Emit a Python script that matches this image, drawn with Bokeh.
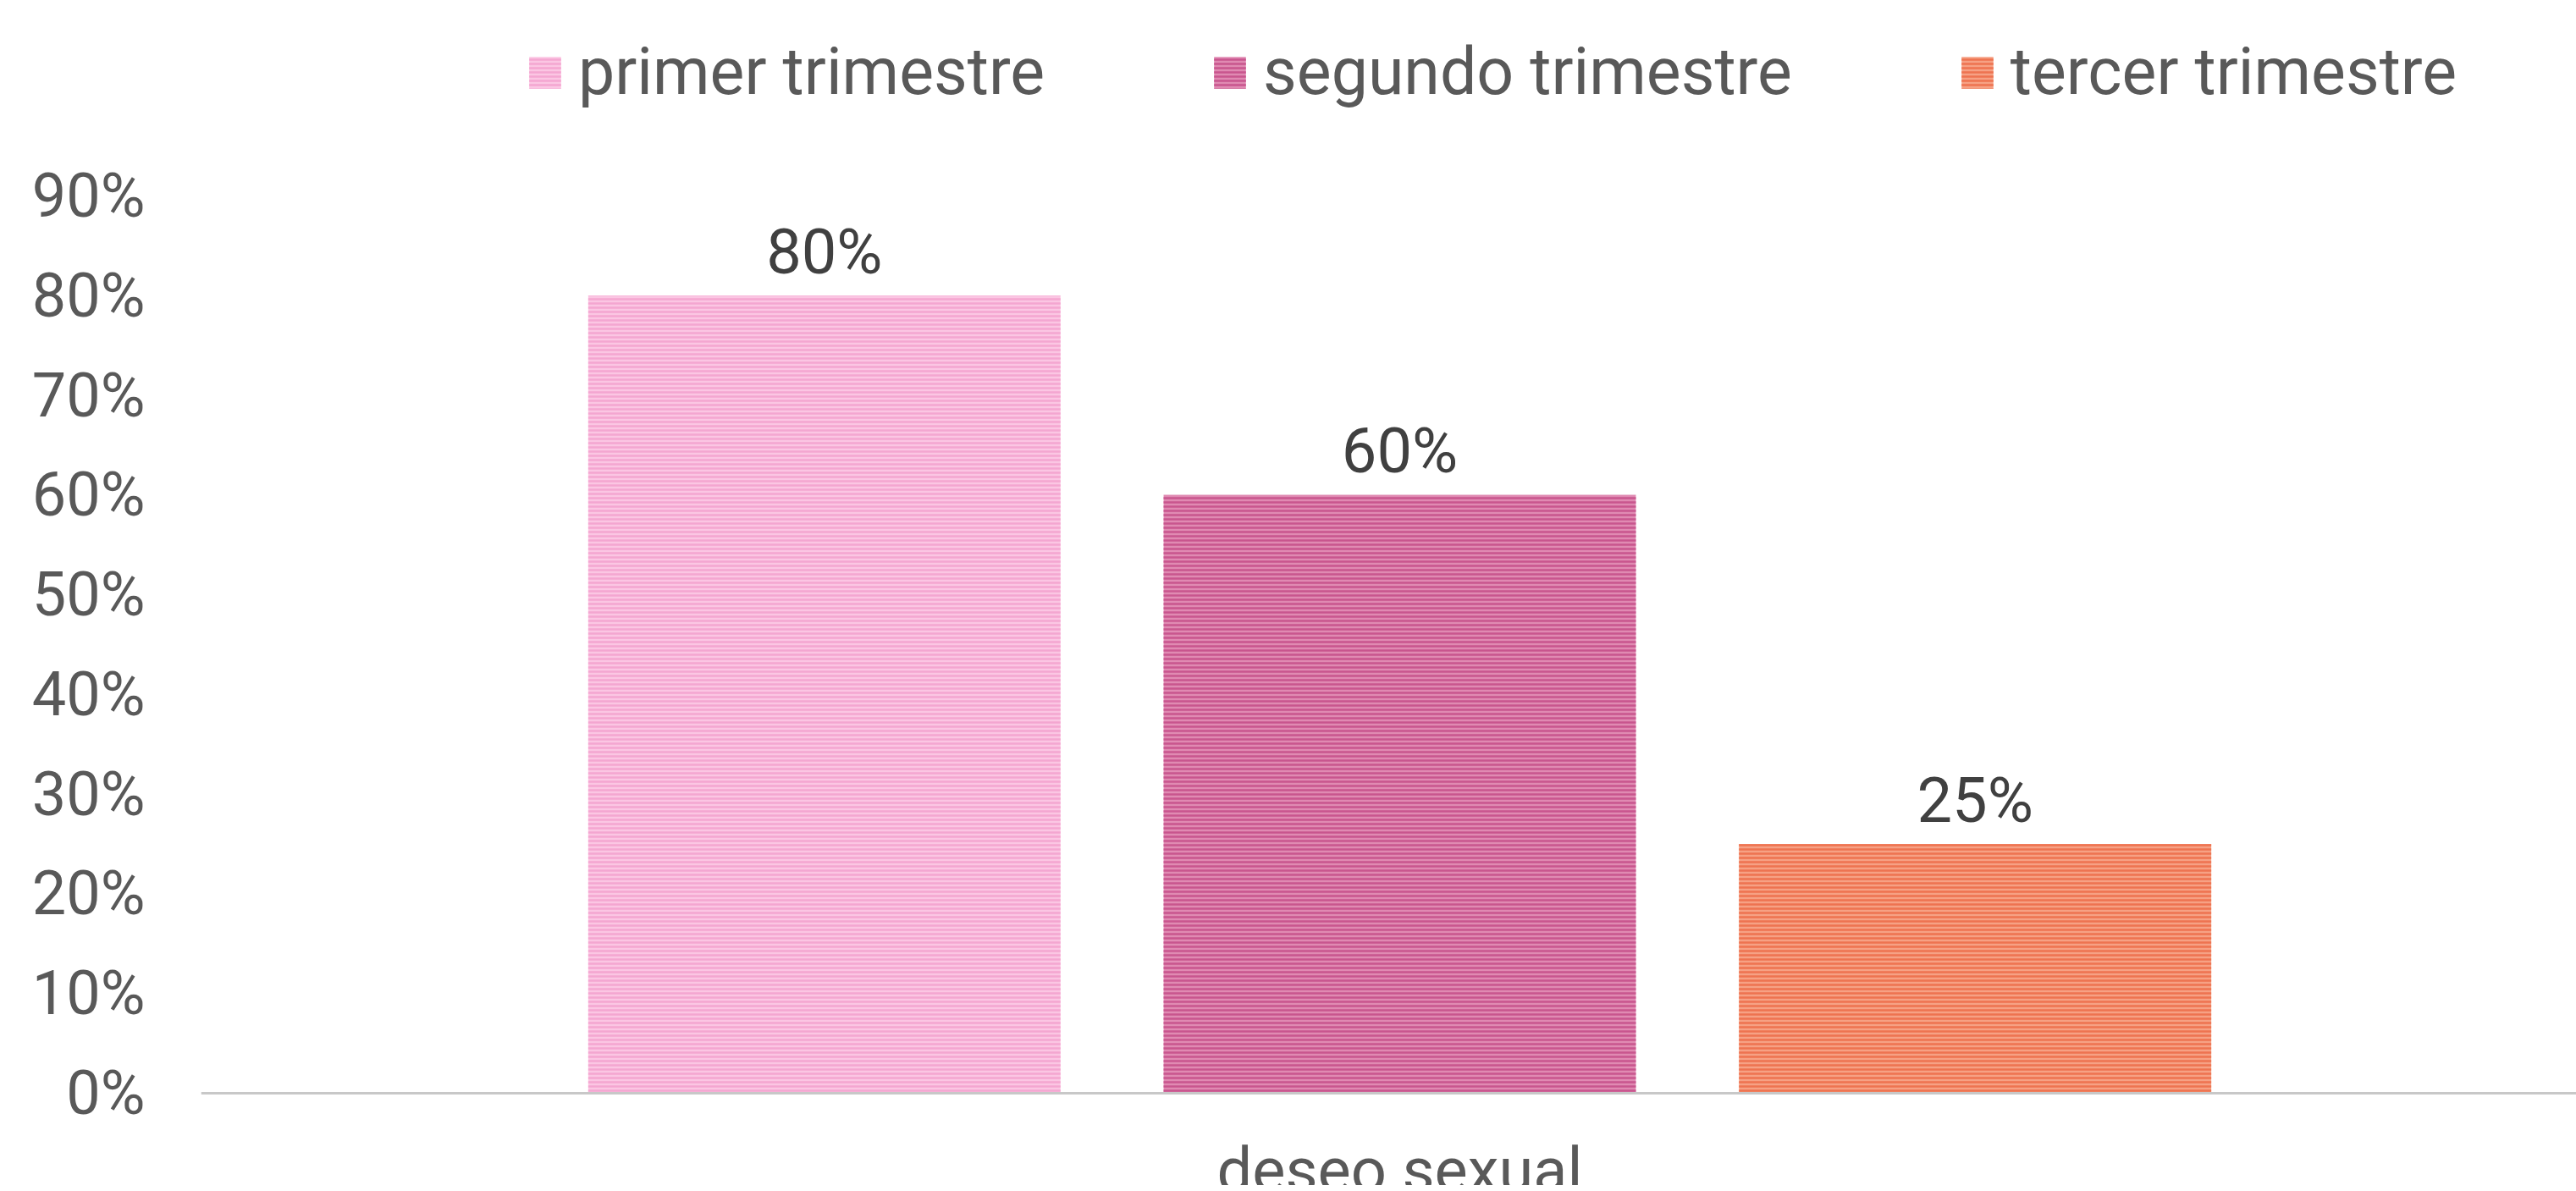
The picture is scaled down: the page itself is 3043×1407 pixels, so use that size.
from bokeh.plotting import figure
from bokeh.models import (ColumnDataSource, Range1d, FixedTicker, NumeralTickFormatter,
                          Legend, LegendItem, Label, Span)
from bokeh.embed import file_html
from bokeh.resources import INLINE
from bokeh.core.properties import value

# ---- data ----
categories = ["deseo sexual"]
series = ["primer trimestre", "segundo trimestre", "tercer trimestre"]
primer = [0.80]
segundo = [0.60]
tercer = [0.25]
y_ticks = [0.0, 0.1, 0.2, 0.3, 0.4, 0.5, 0.6, 0.7, 0.8, 0.9]

# ---- styles ----
fill_colors = ["#FBC6E3", "#E08AB2", "#F6A184"]
hatch_colors = ["#F4A6D1", "#C9558E", "#EE7350"]
offsets = [-0.240, 0.0, 0.240]
bar_w = 0.197
FONT = "Roboto"

W, H = 3043, 1400
LEFT = 237          # plot area left edge (px)
BASE = 1291         # pixel row of the 0% baseline
TOP90 = 231         # pixel row of the 90% gridline
ppu = (BASE - TOP90) / 0.9
y_lo = -(H - BASE) / ppu
y_hi = 0.9 + TOP90 / ppu

p = figure(width=W, height=H, output_backend="svg", toolbar_location=None,
           x_range=Range1d(-0.5, -0.5 + (W - LEFT) / 2832), y_range=Range1d(y_lo, y_hi),
           x_axis_location=None,
           min_border_left=LEFT, min_border_right=0, min_border_top=0, min_border_bottom=0)
p.outline_line_color = None
p.xgrid.visible = False
p.ygrid.visible = False
p.background_fill_color = "white"

idx = list(range(len(categories)))
renderers = []
for vals, name, fc, hc, off in zip([primer, segundo, tercer], series, fill_colors, hatch_colors, offsets):
    src = ColumnDataSource(dict(x=[i + off for i in idx], top=vals,
                                lab=["{:.0%}".format(v) for v in vals]))
    r = p.vbar(x="x", top="top", bottom=0, width=bar_w, source=src,
               fill_color=fc, line_color=None,
               hatch_pattern="horizontal_line", hatch_color=hc,
               hatch_scale=5, hatch_weight=2.5)
    renderers.append(r)
    p.text(x="x", y="top", text="lab", source=src, text_align="center",
           text_baseline="middle", y_offset=-52, text_color="#404040",
           text_font=value(FONT), text_font_size="74px")

# baseline (category axis line)
p.add_layout(Span(location=0, dimension="width", line_color="#C8C8C8", line_width=3))

# y axis
ya = p.yaxis[0]
ya.ticker = FixedTicker(ticks=y_ticks)
ya.formatter = NumeralTickFormatter(format="0%")
ya.axis_line_color = None
ya.major_tick_line_color = None
ya.minor_tick_line_color = None
ya.major_label_text_font = FONT
ya.major_label_text_font_size = "72px"
ya.major_label_text_color = "#595959"
ya.major_label_standoff = 60

# category label
for i, c in enumerate(categories):
    p.add_layout(Label(x=i, y=0, text=c, text_align="center", text_baseline="middle",
                       y_offset=-91, text_color="#595959", text_font=FONT,
                       text_font_size="74px"))

legend = Legend(items=[LegendItem(label=s, renderers=[r]) for s, r in zip(series, renderers)],
                orientation="horizontal", location=(383, 1270),
                glyph_width=47, glyph_height=47, label_standoff=16, spacing=195,
                padding=0, margin=0, border_line_color=None, background_fill_alpha=0,
                label_text_font=FONT, label_text_font_size="77px",
                label_text_color="#595959")
p.add_layout(legend, "center")

open("out.html", "w").write(file_html(p, INLINE))
